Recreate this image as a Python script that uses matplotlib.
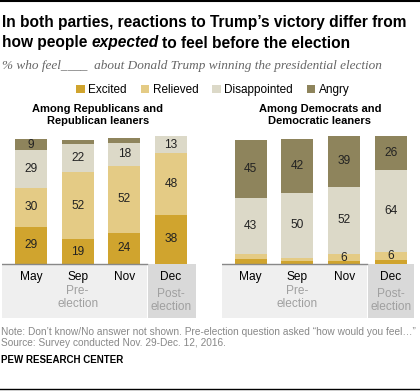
import numpy as np
import matplotlib.pyplot as plt
from matplotlib.patches import Rectangle

months = ['May', 'Sep', 'Nov', 'Dec']
categories = ['Excited', 'Relieved', 'Disappointed', 'Angry']
colors = ['#D0A42E', '#E4CB85', '#DCD9C8', '#8E845C']

# Republicans and Republican leaners
rep = {
    'Excited':      [29, 19, 24, 38],
    'Relieved':     [30, 52, 52, 48],
    'Disappointed': [29, 22, 18, 13],
    'Angry':        [9, 3, 4, 0],
}
# Democrats and Democratic leaners
dem = {
    'Excited':      [4, 2, 2, 3],
    'Relieved':     [4, 3, 6, 6],
    'Disappointed': [43, 50, 52, 64],
    'Angry':        [45, 42, 39, 26],
}
panel_titles = ['Among Republicans and\nRepublican leaners',
                'Among Democrats and\nDemocratic leaners']

W, H = 420, 391
fig = plt.figure(figsize=(W / 100, H / 100), dpi=100)
plt.rcParams['font.family'] = ['Liberation Sans', 'DejaVu Sans']


def fx(x):
    return x / W


def fy(y):
    return 1 - y / H


# top / bottom rules
fig.add_artist(plt.Line2D([0, 1], [fy(1), fy(1)], color='black', lw=1.5))
fig.add_artist(plt.Line2D([0, 1], [fy(389), fy(389)], color='black', lw=1))

TS = 11.2
fig.text(fx(2), fy(22), "In both parties, reactions to Trump\u2019s victory differ from",
         fontsize=TS, fontweight='bold', va='center', ha='left')
r = fig.canvas.get_renderer()
p1 = fig.text(fx(2), fy(43), "how people ", fontsize=TS, fontweight='bold',
              va='center', ha='left')
bb = p1.get_window_extent(r)
p2 = fig.text(bb.x1 / W, fy(43), "expected", fontsize=TS, fontweight='bold',
              style='italic', va='center', ha='left')
bb2 = p2.get_window_extent(r)
fig.text(bb2.x1 / W + 3 / W, fy(43), "to feel before the election", fontsize=TS,
         fontweight='bold', va='center', ha='left')

fig.text(fx(2), fy(66), "% who feel____  about Donald Trump winning the presidential election",
         fontsize=9.5, style='italic', color='#666666', va='center', ha='left',
         family=['Liberation Serif', 'DejaVu Serif'])


def panel(ax, data, left_px, right_px, centers_px, title, title_x):
    spacing = (centers_px[-1] - centers_px[0]) / 3
    x0 = -(centers_px[0] - left_px) / spacing
    x1 = 3 + (right_px - centers_px[-1]) / spacing
    ax.set_xlim(x0, x1)
    ax.set_ylim(-41.9, 100)
    ax.axis('off')
    x = np.arange(4)
    # backgrounds below bars
    ax.add_patch(Rectangle((x0, -41.9), 2.49 - x0, 41.9, color='#EFEFEF', lw=0, zorder=0))
    ax.add_patch(Rectangle((2.51, -41.9), x1 - 2.51, 41.9, color='#D9D9D9', lw=0, zorder=0))
    ax.axhline(0, xmax=(2.49 - x0) / (x1 - x0), color='#888888', lw=1, zorder=3)
    bottom = np.zeros(4)
    bars = []
    for cat, col in zip(categories, colors):
        vals = np.array(data[cat])
        b = ax.bar(x, vals, width=32 / spacing, bottom=bottom, color=col, lw=0,
                   label=cat, zorder=2)
        bars.append(b)
        for xi, v, bt in zip(x, vals, bottom):
            if v >= 5:
                ax.text(xi, bt + v / 2, str(v), ha='center', va='center',
                        fontsize=8.6, color='#222222')
        bottom += vals
    for xi, m in zip(x, months):
        ax.text(xi, -10, m, ha='center', va='center', fontsize=8.6, color='black')
    ax.text(1, -26, 'Pre-\nelection', ha='center', va='center', fontsize=8.6,
            color='#A0A0A0', linespacing=1.05)
    ax.text(3, -28.5, 'Post-\nelection', ha='center', va='center', fontsize=8.6,
            color='#A0A0A0', linespacing=1.05)
    fig.text(fx(title_x), fy(115), title, ha='center', va='center', fontsize=8,
             fontweight='bold', linespacing=1.15)
    return bars


ax_h = (318 - 135) / H
axL = fig.add_axes([fx(2), fy(318), (196 - 2) / W, ax_h])
axR = fig.add_axes([fx(222), fy(318), (414 - 222) / W, ax_h])
bars = panel(axL, rep, 2, 196, [31, 77.5, 124, 171], panel_titles[0], 98)
panel(axR, dem, 222, 414, [250.5, 297, 344, 391], panel_titles[1], 320)

fig.legend(bars, categories, loc='center', bbox_to_anchor=(fx(213), fy(90)), ncol=4,
           frameon=False, fontsize=8.5, handlelength=0.7, handleheight=0.7,
           handletextpad=0.3, columnspacing=1.2, borderpad=0)

fig.text(fx(1), fy(332), "Note: Don\u2019t know/No answer not shown. Pre-election question asked "
         "\u201chow would you feel\u2026\u201d", fontsize=7.3, color='#888888', va='center')
fig.text(fx(1), fy(343), "Source: Survey conducted Nov. 29-Dec. 12, 2016.", fontsize=7.3,
         color='#888888', va='center')
fig.text(fx(1), fy(360), "PEW RESEARCH CENTER", fontsize=7, color='black', va='center',
         fontweight='bold')

fig.savefig('out.png', dpi=100)
